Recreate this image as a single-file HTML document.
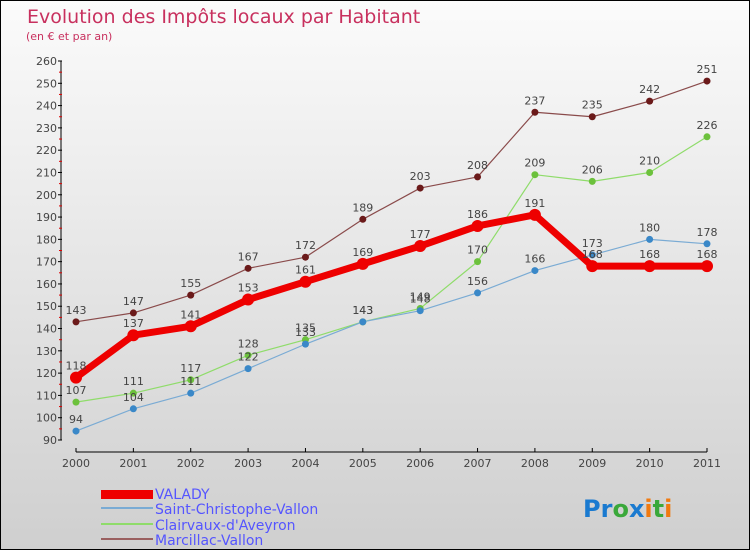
<!DOCTYPE html>
<html><head><meta charset="utf-8"><style>
body{margin:0}
#c{width:748px;height:548px;border:1px solid #000;background:linear-gradient(#fbfbfb,#cfcfcf);position:relative;font-family:"DejaVu Sans","Liberation Sans",sans-serif;overflow:hidden}
svg text{font-family:"DejaVu Sans","Liberation Sans",sans-serif}
</style></head><body>
<div id="c">
<svg id="s" width="748" height="548">
<text x="26" y="22" font-size="19" fill="#c8305e">Evolution des Impôts locaux par Habitant</text>
<text x="25" y="39" font-size="11" fill="#c8305e">(en € et par an)</text>
<g id="axes"></g><g id="series"></g>
<g>
<rect x="100" y="489" width="52" height="9" fill="#e00"/>
<text x="154" y="498" font-size="14" fill="#55f">VALADY</text>
<line x1="100" y1="507" x2="152" y2="507" stroke="#7aabd4" stroke-width="2"/>
<text x="154" y="513" font-size="14" fill="#55f">Saint-Christophe-Vallon</text>
<line x1="100" y1="523" x2="152" y2="523" stroke="#8fdc6a" stroke-width="2"/>
<text x="154" y="529" font-size="14" fill="#55f">Clairvaux-d'Aveyron</text>
<line x1="100" y1="538" x2="152" y2="538" stroke="#9a6060" stroke-width="2"/>
<text x="154" y="544" font-size="14" fill="#55f">Marcillac-Vallon</text>
</g>
<text x="582" y="516" font-size="24" font-weight="bold"><tspan fill="#1a7ad0">Pr</tspan><tspan fill="#3aa83a">o</tspan><tspan fill="#1a7ad0">x</tspan><tspan fill="#f07a10">i</tspan><tspan fill="#3aa83a">t</tspan><tspan fill="#f07a10">i</tspan></text>
</svg></div>
<script>
const years=["2000","2001","2002","2003","2004","2005","2006","2007","2008","2009","2010","2011"];
const yTicks=[90,100,110,120,130,140,150,160,170,180,190,200,210,220,230,240,250,260];
const valady=[118,137,141,153,161,169,177,186,191,168,168,168];
const saintChristophe=[94,104,111,122,133,143,148,156,166,173,180,178];
const clairvaux=[107,111,117,128,135,143,149,170,209,206,210,226];
const marcillac=[143,147,155,167,172,189,203,208,237,235,242,251];
const NS="http://www.w3.org/2000/svg";
const X=i=>75+i*(706-75)/(years.length-1);
const Y=v=>439-(v-90)*379/170;
function mk(t,a,p){const e=document.createElementNS(NS,t);for(const k in a)e.setAttribute(k,a[k]);p.appendChild(e);return e;}
const ax=document.getElementById('axes'),sr=document.getElementById('series');
mk('line',{x1:60,y1:Y(260),x2:60,y2:Y(90),stroke:'#000'},ax);
yTicks.forEach((v,i)=>{mk('line',{x1:57,y1:Y(v),x2:61,y2:Y(v),stroke:'#000'},ax);
 if(i<yTicks.length-1)mk('line',{x1:58,y1:Y(v+5),x2:61,y2:Y(v+5),stroke:'#d00'},ax);
 const t=mk('text',{x:56,y:Y(v)+4,'font-size':11,fill:'#444','text-anchor':'end'},ax);t.textContent=v;
 
 });
mk('line',{x1:75,y1:451,x2:706,y2:451,stroke:'#000'},ax);
years.forEach((y,i)=>{mk('line',{x1:X(i),y1:447,x2:X(i),y2:451,stroke:'#000'},ax);
 const t=mk('text',{x:X(i),y:466,'font-size':11,fill:'#444','text-anchor':'middle'},ax);t.textContent=y;
 
 });
function draw(d,col,w,r,dot,name){
 const g=mk('g',{},sr);
 
 
 mk('polyline',{points:d.map((v,i)=>X(i)+','+Y(v)).join(' '),fill:'none',stroke:col,'stroke-width':w,'stroke-linejoin':'round'},g);
 d.forEach((v,i)=>{const c=mk('circle',{cx:X(i),cy:Y(v),r:r,fill:dot},g);
  
  
  const t=mk('text',{x:X(i),y:Y(v)-8,'font-size':11,fill:'#444','text-anchor':'middle'},g);t.textContent=v;
  
  });
}
draw(marcillac,'#8a4b4b',1.2,3.5,'#6b1a1a','marcillac');
draw(clairvaux,'#8fdc6a',1.2,3.5,'#6cc13c','clairvaux');
draw(saintChristophe,'#7aabd4',1.2,3.5,'#3a88c8','saint-christophe');
draw(valady,'#e00',7,6,'#e00','valady');
</script>
</body></html>
